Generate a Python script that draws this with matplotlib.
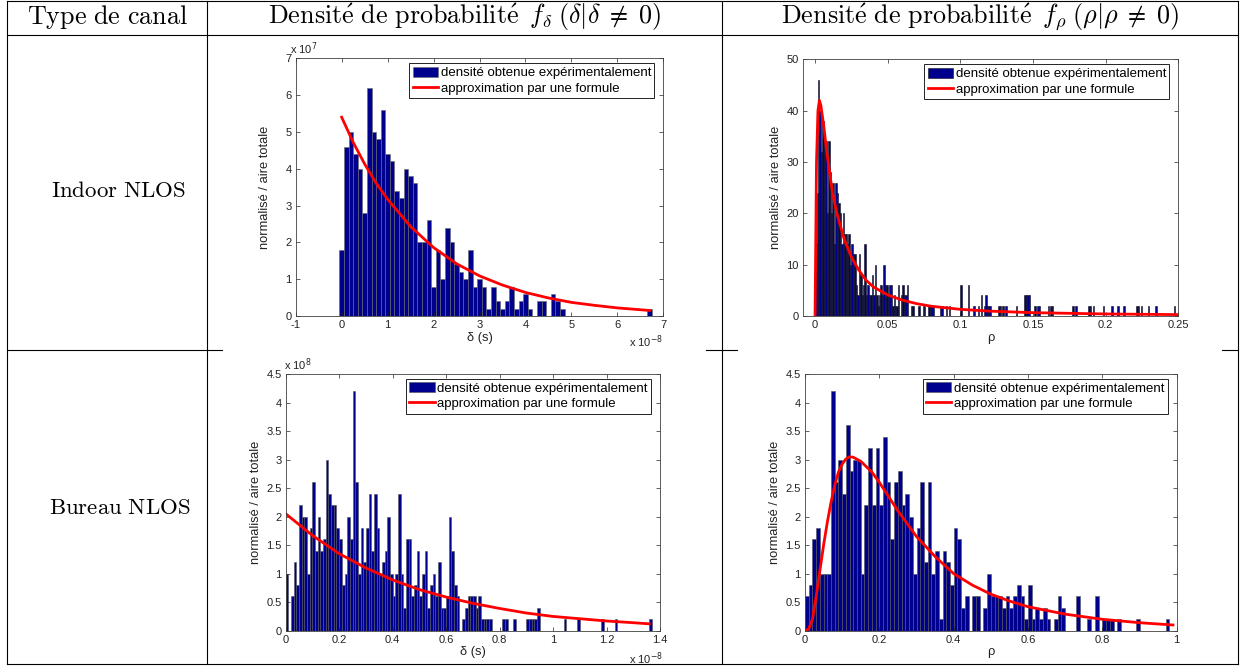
import numpy as np
import matplotlib.pyplot as plt
from matplotlib.lines import Line2D

plt.rcParams['font.family'] = ['Liberation Sans', 'DejaVu Sans']

W, H = 1245, 668

# Indoor NLOS, delta : bins of 0.1 (x 1e-8 s), heights in units of 1e7
delta_in = [1.8, 4.6, 5.0, 4.4, 4.0, 2.8, 6.2, 5.0, 4.8, 5.6,
            4.4, 4.2, 3.4, 3.2, 4.0, 3.8, 3.6, 2.0, 2.0, 2.6,
            0.8, 1.8, 1.0, 2.4, 2.0, 1.4, 1.2, 1.0, 1.8, 0.8,
            1.0, 0.8, 0.2, 0.8, 0.4, 0.2, 0.4, 0.8, 0.2, 0.4,
            0.6, 0.2, 0, 0.4, 0.4, 0, 0.6, 0.4, 0.2, 0,
            0, 0, 0, 0, 0, 0, 0, 0, 0, 0,
            0, 0, 0, 0, 0, 0, 0, 0.2]
delta_in_fit_x = [0, 0.25, 0.5, 0.75, 1, 1.5, 2, 2.5, 3, 3.5, 4, 4.5, 5, 5.5, 6, 6.7]
delta_in_fit_y = [5.4, 4.72, 4.13, 3.61, 3.17, 2.43, 1.86, 1.42, 1.09, 0.84, 0.64, 0.49,
                  0.37, 0.29, 0.22, 0.15]

# Indoor NLOS, rho : bins of 0.001
rho_in = [14, 24, 46, 40, 32, 38, 34, 34, 20, 34, 28, 20, 26, 14, 26, 24, 22, 20, 14, 20, 16, 16, 14, 16, 10,
          14, 12, 12, 6, 4, 12, 8, 4, 6, 14, 4, 6, 4, 4, 8, 4, 10, 4, 2, 4, 6, 4, 10, 6, 6,
          4, 6, 6, 2, 4, 2, 2, 6, 0, 4, 6, 4, 4, 6, 0, 0, 2, 2, 0, 0, 0, 2, 0, 0, 2,
          2, 0, 0, 2, 2, 2, 2, 0, 0, 0, 0, 2, 2, 0, 0, 2, 0, 2, 0, 0, 0, 0, 0, 0, 0,
          6, 0, 0, 0, 0, 6, 0, 0, 0, 2, 0, 0, 2, 0, 4, 0, 2, 4, 2, 2, 2, 0, 0, 0, 0,
          0, 2, 2, 0, 2, 0, 2, 0, 0, 0, 0, 0, 0, 2, 0, 0, 0, 0, 0, 4, 4, 4, 4, 0, 0,
          0, 2, 0, 2, 2, 0, 0, 0, 0, 0, 2, 0, 2, 2, 0, 0, 0, 0, 0, 0, 0, 0, 0, 0, 0,
          0, 0, 2, 0, 2, 0, 0, 0, 0, 0, 0, 0, 0, 2, 2, 0, 2, 0, 0, 0, 0, 0, 0, 2, 0,
          0, 0, 0, 0, 2, 0, 0, 0, 2, 0, 0, 0, 2, 0, 0, 0, 0, 0, 0, 0, 0, 2, 2, 0, 2,
          0, 0, 0, 0, 2, 0, 0, 0, 0, 2, 0, 0, 0, 0, 0, 0, 0, 0, 0, 0, 0, 0, 2, 0, 0]
rho_in_fit_x = [0, 0.0005, 0.001, 0.002, 0.003, 0.004, 0.006, 0.008, 0.01, 0.012, 0.015,
                0.02, 0.025, 0.03, 0.035, 0.04, 0.05, 0.06, 0.07, 0.08, 0.1, 0.12, 0.15, 0.2, 0.25]
rho_in_fit_y = [0, 15, 30, 40, 42, 41, 37, 32, 28, 24, 20, 15, 11.5, 9, 7, 5.7, 4.1, 3.1,
                2.4, 1.9, 1.3, 0.95, 0.65, 0.4, 0.27]

# Bureau NLOS, delta : bins of 0.01 (x 1e-8 s), heights in units of 1e8
delta_bu = [1.0, 0, 0.6, 1.2, 0.8, 2.2, 2.0, 2.0, 1.0, 1.8,
            2.6, 1.4, 2.0, 1.4, 1.6, 3.0, 2.4, 2.2, 2.2, 1.8,
            1.6, 0.8, 1.0, 2.0, 1.6, 4.2, 2.6, 1.0, 1.8, 1.2,
            1.8, 2.4, 1.4, 2.4, 1.8, 1.0, 1.2, 1.4, 2.0, 1.0,
            0.6, 1.0, 2.4, 1.0, 0.4, 1.6, 1.6, 0.6, 0.8, 1.4,
            0.6, 1.0, 1.4, 0.4, 0.8, 1.0, 0.6, 1.2, 0.4, 0.4,
            0.6, 2.0, 1.4, 0.8, 0.6, 0, 0.2, 0.4, 0.6, 0.6,
            0.6, 0.4, 0.6, 0.2, 0.2, 0.2, 0.2, 0, 0, 0,
            0, 0.2, 0.2, 0, 0, 0.2, 0, 0, 0, 0,
            0.2, 0.2, 0.2, 0.2, 0.4, 0, 0, 0, 0, 0,
            0, 0, 0, 0, 0.2, 0, 0, 0, 0, 0.2,
            0, 0, 0, 0, 0, 0, 0, 0, 0.2, 0,
            0, 0, 0, 0.2, 0, 0, 0, 0, 0, 0,
            0, 0, 0, 0, 0, 0, 0.2]
delta_bu_fit_x = [0, 0.1, 0.2, 0.3, 0.4, 0.5, 0.6, 0.7, 0.8, 0.9, 1.0, 1.1, 1.2, 1.3, 1.36]
delta_bu_fit_y = [2.05, 1.67, 1.35, 1.10, 0.89, 0.72, 0.59, 0.48, 0.39, 0.31, 0.25, 0.21,
                  0.17, 0.14, 0.12]

# Bureau NLOS, rho : bins of 0.01
rho_bu = [0.6, 0.8, 1.6, 1.8, 1.0, 1.0, 1.0, 4.2, 2.6, 3.0,
          2.4, 3.6, 2.8, 3.0, 3.0, 1.0, 2.2, 3.2, 2.2, 3.2,
          2.2, 3.4, 2.6, 1.6, 2.6, 2.8, 2.2, 2.4, 2.0, 1.0,
          1.8, 2.6, 1.2, 2.6, 1.0, 1.4, 0.2, 1.4, 1.2, 0.8,
          1.8, 1.6, 0.4, 0.6, 0, 0.6, 0.6, 0, 0.4, 1.0,
          0.6, 0.6, 0.6, 0.4, 0.6, 0.4, 0.6, 0.8, 0.6, 0.2,
          0.8, 0.2, 0.4, 0.2, 0.4, 0.2, 0, 0.2, 0.6, 0.4,
          0, 0, 0, 0.6, 0, 0, 0.2, 0, 0.6, 0,
          0.2, 0.2, 0.2, 0, 0.2, 0, 0, 0, 0, 0.2,
          0, 0, 0, 0, 0, 0, 0, 0.2]
rho_bu_fit_x = [0, 0.01, 0.02, 0.03, 0.04, 0.05, 0.06, 0.07, 0.08, 0.09, 0.10, 0.11, 0.12,
                0.13, 0.15, 0.18, 0.2, 0.25, 0.3, 0.35, 0.4, 0.45, 0.5, 0.55, 0.6, 0.7,
                0.8, 0.9, 0.99]
rho_bu_fit_y = [0, 0.03, 0.2, 0.6, 1.05, 1.5, 1.9, 2.25, 2.55, 2.78, 2.92, 3.01, 3.05,
                3.04, 2.97, 2.78, 2.6, 2.1, 1.65, 1.3, 1.0, 0.8, 0.64, 0.52, 0.42, 0.29,
                0.2, 0.14, 0.1]

lab_bars = 'densité obtenue expérimentalement'
lab_fit = 'approximation par une formule'

fig = plt.figure(figsize=(W / 100, H / 100), dpi=100)


def fx(x):
    return x / W


def fy(y):
    return 1 - y / H


def rule(x0, y0, x1, y1):
    fig.add_artist(Line2D([fx(x0), fx(x1)], [fy(y0), fy(y1)],
                          transform=fig.transFigure, color='k', lw=0.8))


def panel(box, heights, binw, offset, fit_x, fit_y, xlim, ylim, xticks, yticks,
          xlabel, edge, ypad=3):
    l, t, r, b = box
    ax = fig.add_axes([fx(l), fy(b), (r - l) / W, (b - t) / H])
    centers = (np.arange(len(heights)) + offset) * binw
    bars = ax.bar(centers, heights, width=binw, color='#00008f', edgecolor=edge,
                  linewidth=0.4)
    fit, = ax.plot(fit_x, fit_y, color='red', lw=2)
    ax.set_xlim(*xlim)
    ax.set_ylim(*ylim)
    ax.set_xticks(xticks)
    ax.set_xticklabels([f'{v:g}' for v in xticks])
    ax.set_yticks(yticks)
    ax.set_yticklabels([f'{v:g}' for v in yticks])
    ax.tick_params(direction='in', top=True, right=True, length=3, width=0.5,
                   labelsize=8, pad=3, colors='#222222')
    for s in ax.spines.values():
        s.set_linewidth(0.6)
        s.set_color('#404040')
    ax.set_xlabel(xlabel, fontsize=9.3, labelpad=1, color='#222222')
    ax.set_ylabel('normalisé / aire totale', fontsize=9.3, labelpad=ypad, color='#222222')
    leg = ax.legend([bars, fit], [lab_bars, lab_fit], loc='upper right',
                    bbox_to_anchor=(1 - 9 / (r - l), 1 - 5 / (b - t)),
                    borderaxespad=0, fancybox=False, edgecolor='k', framealpha=1,
                    fontsize=9.5, handlelength=1.9, handleheight=0.8, handletextpad=0.2,
                    borderpad=0.25, labelspacing=0.2)
    leg.get_frame().set_linewidth(0.6)
    return ax


panel((295.7, 58.3, 663.3, 316), delta_in, 0.1, 0, delta_in_fit_x, delta_in_fit_y,
      (-1, 7), (0, 7), range(-1, 8), range(0, 8), 'δ (s)', '#6a6a6a', ypad=10)
panel((802.7, 59.3, 1178.3, 316), rho_in, 0.001, 0.5, rho_in_fit_x, rho_in_fit_y,
      (-0.0085, 0.25), (0, 50), [0, 0.05, 0.1, 0.15, 0.2, 0.25], range(0, 60, 10),
      'ρ', '#111111')
panel((285.7, 374, 660, 630.7), delta_bu, 0.01, 0.5, delta_bu_fit_x, delta_bu_fit_y,
      (0, 1.4), (0, 4.5), [0, 0.2, 0.4, 0.6, 0.8, 1, 1.2, 1.4],
      [0, 0.5, 1, 1.5, 2, 2.5, 3, 3.5, 4, 4.5], 'δ (s)', '#555555')
panel((805, 374, 1176.7, 630.7), rho_bu, 0.01, 0.5, rho_bu_fit_x, rho_bu_fit_y,
      (0, 1), (0, 4.5), [0, 0.2, 0.4, 0.6, 0.8, 1],
      [0, 0.5, 1, 1.5, 2, 2.5, 3, 3.5, 4, 4.5], 'ρ', '#555555')

# exponent annotations, MATLAB style
sty = dict(fontsize=8, color='#222222', math_fontfamily='dejavusans')
fig.text(fx(290), fy(57), r'x 10$^{7}$', ha='left', va='bottom', **sty)
fig.text(fx(663), fy(333), r'x 10$^{-8}$', ha='right', va='top', **sty)
fig.text(fx(284), fy(373), r'x 10$^{8}$', ha='left', va='bottom', **sty)
fig.text(fx(663), fy(650), r'x 10$^{-8}$', ha='right', va='top', **sty)

# table rules
rule(7, 1, 1238, 1)
rule(7, 35, 1238, 35)
rule(7, 664, 1238, 664)
for x in (7, 207, 722, 1238):
    rule(x, 1, x, 664)
rule(7, 350, 222, 350)
rule(706, 350, 737, 350)
rule(1222, 350, 1238, 350)

# table text (LaTeX look)
hdr = dict(fontsize=18.8, ha='center', va='center', math_fontfamily='cm')
fig.text(fx(108), fy(17), r'$\mathrm{Type\ de\ canal}$', **hdr)
fig.text(fx(465), fy(17),
         r'$\mathrm{Densit\acute{e}\ de\ probabilit\acute{e}}\ \,f_{\delta}\;(\delta|\delta\;\neq\;0)$', **hdr)
fig.text(fx(980), fy(17),
         r'$\mathrm{Densit\acute{e}\ de\ probabilit\acute{e}}\ \,f_{\rho}\;(\rho|\rho\;\neq\;0)$', **hdr)
row = dict(fontsize=16.5, ha='center', va='center', math_fontfamily='cm')
fig.text(fx(118), fy(190), r'$\mathrm{Indoor\ NLOS}$', **row)
fig.text(fx(120), fy(507), r'$\mathrm{Bureau\ NLOS}$', **row)

fig.savefig('out.png', dpi=100)
